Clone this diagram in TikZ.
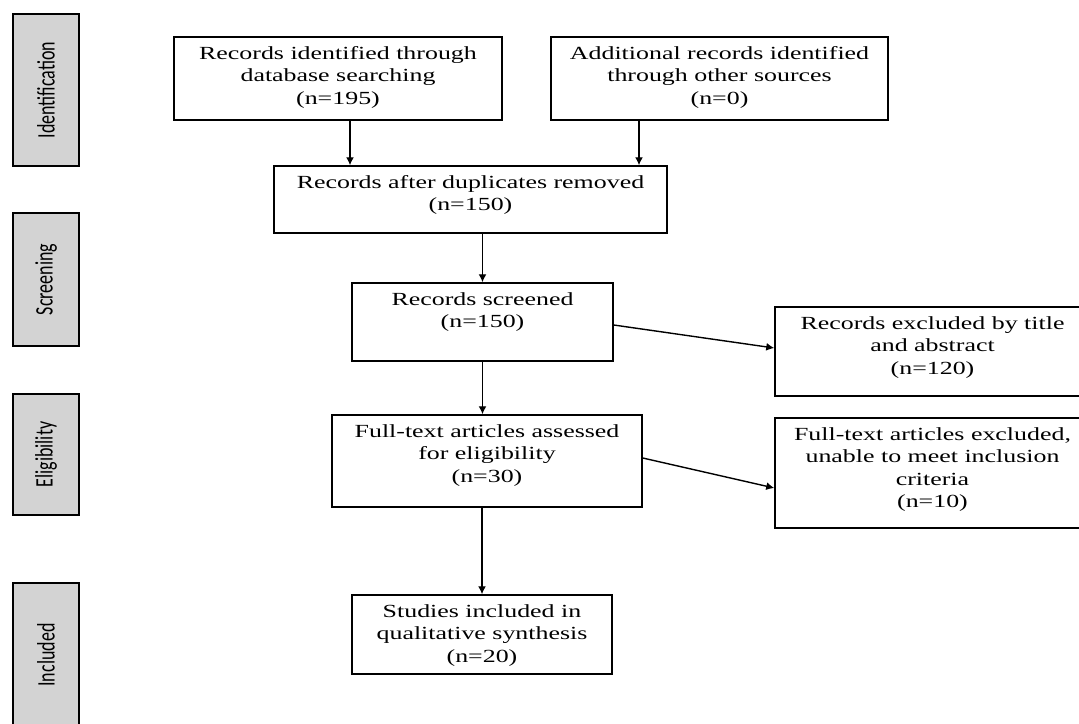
\documentclass[tikz,border=0pt]{standalone}
\usepackage{graphicx}
\usepackage{fontspec}
\setmainfont{Liberation Serif}[FakeStretch=1.4]
\newfontfamily\stagefont{Carlito}
\usetikzlibrary{arrows.meta}

\def\boxfont{\fontsize{18.5pt}{22.5pt}\selectfont}
\newcommand{\boxtext}[3]{\parbox[c][#2][t]{#1}{\centering\boxfont\vspace*{9.4pt}#3}}
\definecolor{stage fill}{RGB}{211,211,211}
\tikzset{box/.style={draw, line width=1.5pt, inner sep=0pt},
    stage/.style={draw, line width=1.5pt, fill=stage fill, rotate=90, inner sep=0pt,
        minimum width=#1, minimum height=66pt,
        font=\stagefont\fontsize{18pt}{20pt}\selectfont},
    flow/.style={line width=1.4pt, -{Latex[length=8pt,width=8pt]}}}

\begin{document}
\begin{tikzpicture}[x=1pt, y=-1pt]
    \path[use as bounding box, clip] (0,0) rectangle (1079,723);
    \fill[white] (0,0) rectangle (1079,723);

    \node[stage=152pt] (stageid) at (46,90) {\scalebox{1}[1.4]{Identification}};
    \node[stage=133pt] (stagesc) at (46,279.5) {\scalebox{1}[1.4]{Screening}};
    \node[stage=121pt] (stageel) at (46,454.5) {\scalebox{1}[1.4]{Eligibility}};
    \node[stage=144pt] (stagein) at (46,655) {\scalebox{1}[1.4]{Included}};

    \node[box] (db) at (338,78.5) {\boxtext{328pt}{83pt}{Records identified through\\database searching\\(n=195)}};
    \node[box] (other) at (719.5,78.5) {\boxtext{337pt}{83pt}{Additional records identified\\through other sources\\(n=0)}};
    \node[box] (dup) at (470.5,199.5) {\boxtext{393pt}{67pt}{Records after duplicates removed\\(n=150)}};
    \node[box] (scr) at (482.5,322) {\boxtext{261pt}{78pt}{Records screened\\(n=150)}};
    \node[box] (excl) at (932.5,351.5) {\boxtext{315pt}{89pt}{Records excluded by title\\and abstract\\(n=120)}};
    \node[box] (full) at (487,461) {\boxtext{310pt}{92pt}{Full-text articles assessed\\for eligibility\\(n=30)}};
    \node[box] (exfull) at (932.5,473) {\boxtext{315pt}{110pt}{Full-text articles excluded,\\unable to meet inclusion\\criteria\\(n=10)}};
    \node[box] (study) at (482,634.5) {\boxtext{260pt}{79pt}{Studies included in\\qualitative synthesis\\(n=20)}};

    \draw[flow] ([xshift=12pt]db.south) -- ([xshift=12pt]db.south |- dup.north);
    \draw[flow] ([xshift=-80.5pt]other.south) -- ([xshift=-80.5pt]other.south |- dup.north);
    \draw[flow] (dup.south -| scr.north) -- (scr.north);
    \draw[flow] (scr.south) -- (scr.south |- full.north);
    \draw[flow] (full.south -| study.north) -- (study.north);
    \draw[flow] ([yshift=-3pt]scr.east) -- ([yshift=3.5pt]excl.west);
    \draw[flow] ([yshift=3pt]full.east) -- ([yshift=-15pt]exfull.west);
\end{tikzpicture}
\end{document}
